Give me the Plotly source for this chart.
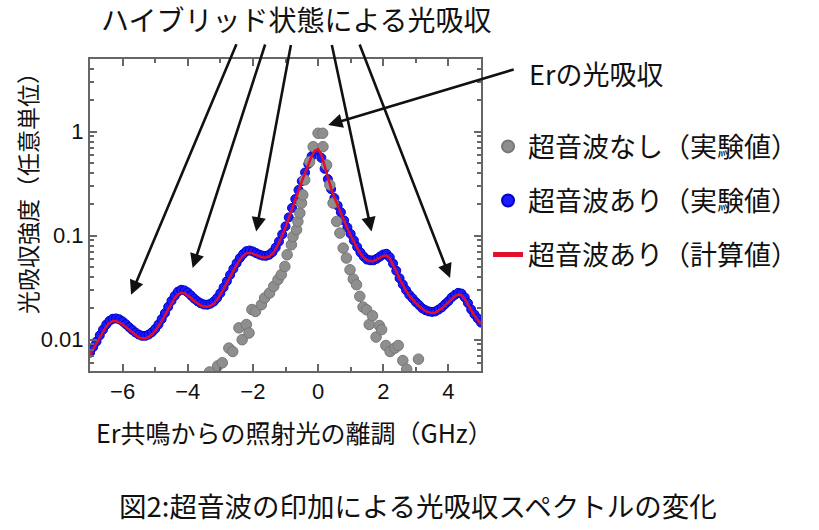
import math
import plotly.graph_objects as go

CJK = "Noto Sans CJK JP"
LAT = "Liberation Sans, Arial, sans-serif"

# ---- data -------------------------------------------------------------
detuning = [
    -7.0, -6.9, -6.8, -6.7, -6.6, -6.5, -6.4, -6.3, -6.2, -6.1,
    -6.0, -5.9, -5.8, -5.7, -5.6, -5.5, -5.4, -5.3, -5.2, -5.1,
    -5.0, -4.9, -4.8, -4.7, -4.6, -4.5, -4.4, -4.3, -4.2, -4.1,
    -4.0, -3.9, -3.8, -3.7, -3.6, -3.5, -3.4, -3.3, -3.2, -3.1,
    -3.0, -2.9, -2.8, -2.7, -2.6, -2.5, -2.4, -2.3, -2.2, -2.1,
    -2.0, -1.9, -1.8, -1.7, -1.6, -1.5, -1.4, -1.3, -1.2, -1.1,
    -1.0, -0.9, -0.8, -0.7, -0.6, -0.5, -0.4, -0.3, -0.2, -0.1,
    0.0, 0.1, 0.2, 0.3, 0.4, 0.5, 0.6, 0.7, 0.8, 0.9,
    1.0, 1.1, 1.2, 1.3, 1.4, 1.5, 1.6, 1.7, 1.8, 1.9,
    2.0, 2.1, 2.2, 2.3, 2.4, 2.5, 2.6, 2.7, 2.8, 2.9,
    3.0, 3.1, 3.2, 3.3, 3.4, 3.5, 3.6, 3.7, 3.8, 3.9,
    4.0, 4.1, 4.2, 4.3, 4.4, 4.5, 4.6, 4.7, 4.8, 4.9,
    5.0,
]

with_us_exp = [
    0.0075, 0.0085, 0.0096, 0.0110, 0.0125, 0.0140, 0.0152, 0.0159, 0.0160, 0.0157,
    0.0150, 0.0141, 0.0132, 0.0124, 0.0117, 0.0112, 0.0109, 0.0109, 0.0112, 0.0118,
    0.0127, 0.0140, 0.0158, 0.0180, 0.0207, 0.0236, 0.0264, 0.0290, 0.0302, 0.0298,
    0.0285, 0.0266, 0.0248, 0.0234, 0.0224, 0.0218, 0.0217, 0.0222, 0.0233, 0.0252,
    0.0280, 0.0318, 0.0365, 0.0420, 0.0480, 0.0545, 0.0610, 0.0665, 0.0710, 0.0720,
    0.0705, 0.0680, 0.0658, 0.0643, 0.0640, 0.0655, 0.0695, 0.0770, 0.0880, 0.1030,
    0.1230, 0.1500, 0.1850, 0.2250, 0.2750, 0.3350, 0.4050, 0.4900, 0.5800, 0.6550,
    0.6750, 0.5600, 0.4400, 0.3500, 0.2800, 0.2300, 0.1950, 0.1680, 0.1400, 0.1200,
    0.1040, 0.0900, 0.0780, 0.0690, 0.0630, 0.0590, 0.0580, 0.0580, 0.0600, 0.0630,
    0.0660, 0.0670, 0.0620, 0.0540, 0.0460, 0.0390, 0.0340, 0.0300, 0.0270, 0.0250,
    0.0230, 0.0215, 0.0200, 0.0192, 0.0187, 0.0185, 0.0187, 0.0195, 0.0205, 0.0220,
    0.0235, 0.0255, 0.0270, 0.0282, 0.0278, 0.0255, 0.0225, 0.0195, 0.0175, 0.0160,
    0.0146,
]

with_us_calc = [
    0.0072, 0.0082, 0.0093, 0.0106, 0.0120, 0.0134, 0.0145, 0.0151, 0.0151, 0.0147,
    0.0140, 0.0132, 0.0123, 0.0116, 0.0110, 0.0105, 0.0103, 0.0103, 0.0106, 0.0112,
    0.0121, 0.0134, 0.0151, 0.0172, 0.0197, 0.0225, 0.0251, 0.0273, 0.0283, 0.0280,
    0.0268, 0.0252, 0.0236, 0.0222, 0.0213, 0.0208, 0.0207, 0.0212, 0.0223, 0.0242,
    0.0270, 0.0307, 0.0352, 0.0405, 0.0463, 0.0525, 0.0588, 0.0640, 0.0676, 0.0685,
    0.0672, 0.0650, 0.0630, 0.0618, 0.0617, 0.0632, 0.0672, 0.0745, 0.0855, 0.1005,
    0.1200, 0.1470, 0.1820, 0.2220, 0.2720, 0.3320, 0.4020, 0.4870, 0.5780, 0.6550,
    0.6800, 0.6000, 0.4600, 0.3600, 0.2850, 0.2330, 0.1950, 0.1650, 0.1380, 0.1170,
    0.1010, 0.0870, 0.0760, 0.0675, 0.0615, 0.0580, 0.0568, 0.0570, 0.0588, 0.0615,
    0.0640, 0.0645, 0.0605, 0.0530, 0.0455, 0.0388, 0.0335, 0.0295, 0.0265, 0.0242,
    0.0225, 0.0210, 0.0197, 0.0188, 0.0183, 0.0181, 0.0183, 0.0190, 0.0200, 0.0214,
    0.0230, 0.0248, 0.0263, 0.0272, 0.0268, 0.0247, 0.0218, 0.0190, 0.0170, 0.0155,
    0.0142,
]

no_us_x = [
    -3.33, -3.08, -2.94, -2.74, -2.62, -2.43, -2.33, -2.20, -2.12, -2.03,
    -1.92, -1.74, -1.64, -1.49, -1.36, -1.23, -1.13, -1.02, -0.95, -0.82,
    -0.77, -0.66, -0.62, -0.56, -0.51, -0.47, -0.41, -0.26, -0.15, 0.00,
    0.14, 0.15, 0.26, 0.36, 0.46, 0.57, 0.67, 0.77, 0.87, 0.98,
    1.08, 1.18, 1.28, 1.38, 1.49, 1.57, 1.67, 1.78, 1.88, 1.95,
    2.08, 2.21, 2.36, 2.46, 2.60, 2.72, 3.08,
]
no_us_y = [
    0.0049, 0.0056, 0.0060, 0.0083, 0.0077, 0.0130, 0.0100, 0.0140, 0.0116, 0.0195,
    0.0187, 0.0217, 0.0252, 0.0281, 0.0326, 0.0378, 0.0422, 0.0506, 0.0656, 0.0818,
    0.0980, 0.1140, 0.1370, 0.1650, 0.2060, 0.2470, 0.3440, 0.5150, 0.7180, 0.9660,
    0.9660, 0.7180, 0.4790, 0.3080, 0.2060, 0.1370, 0.1060, 0.0760, 0.0610, 0.0470,
    0.0383, 0.0338, 0.0261, 0.0206, 0.0194, 0.0140, 0.0170, 0.0106, 0.0137, 0.0125,
    0.0088, 0.0077, 0.0083, 0.0088, 0.0063, 0.0052, 0.0065,
]

series_names = ["超音波なし（実験値）", "超音波あり（実験値）", "超音波あり（計算値）"]
x_ticks = [-6, -4, -2, 0, 2, 4]
y_ticks = [0.01, 0.1, 1]
y_tick_text = ["0.01", "0.1", "1"]

# arrow targets (data coords) for hybrid-state peaks and Er peak
hybrid_arrow_x = [-5.74, -3.85, -1.90, 1.64, 4.05]
hybrid_arrow_y = [0.0271, 0.0489, 0.1097, 0.1097, 0.0392]
er_arrow_x, er_arrow_y = 0.31, 1.159

# ---- figure -------------------------------------------------------------
fig = go.Figure()

fig.add_trace(go.Scatter(
    x=detuning, y=with_us_exp, mode="markers", name=series_names[1],
    legendgroup="b", legendrank=2,
    marker=dict(size=9, color="#1a1aff", line=dict(width=1, color="#0000c8")),
))
fig.add_trace(go.Scatter(
    x=no_us_x, y=no_us_y, mode="markers", name=series_names[0],
    legendgroup="a", legendrank=1,
    marker=dict(size=10.5, color="#8e8e8e", line=dict(width=1, color="#777777")),
))
fig.add_trace(go.Scatter(
    x=detuning, y=with_us_calc, mode="lines", name=series_names[2],
    legendgroup="c", legendrank=3,
    line=dict(color="#e0102a", width=2.5),
))

axis_common = dict(
    showline=True, linecolor="#666666", linewidth=2, mirror="ticks",
    ticks="inside", tickcolor="#666666", tickwidth=1.5, ticklen=7,
    showgrid=False, zeroline=False,
    tickfont=dict(family=LAT, size=22, color="#111111"),
)

fig.update_xaxes(
    range=[-7, 5], tickvals=x_ticks,
    minor=dict(dtick=1, tick0=1, ticks="inside", ticklen=4, tickcolor="#666666", showgrid=False),
    **axis_common,
)
fig.update_yaxes(
    type="log", range=[-2.301, 0.699], tickvals=y_ticks, ticktext=y_tick_text,
    minor=dict(dtick="D1", ticks="inside", ticklen=4, tickcolor="#666666", showgrid=False),
    **axis_common,
)

annotations = []
tails = [(106, -252), (73, -225), (35, -188), (-40, -188), (-91, -235)]
for (xv, yv), (dx, dy) in zip(zip(hybrid_arrow_x, hybrid_arrow_y), tails):
    annotations.append(dict(
        x=xv, y=math.log10(yv), xref="x", yref="y", ax=dx, ay=dy,
        text="", showarrow=True, arrowhead=2, arrowsize=1.1, arrowwidth=2.6, arrowcolor="#111111",
    ))
annotations.append(dict(
    x=er_arrow_x, y=math.log10(er_arrow_y), xref="x", yref="y", ax=187, ay=-56,
    text="", showarrow=True, arrowhead=2, arrowsize=1.1, arrowwidth=2.6, arrowcolor="#111111",
))
annotations.append(dict(
    x=0.528, y=1.127, xref="paper", yref="paper", xanchor="center", yanchor="middle",
    text="ハイブリッド状態による光吸収", showarrow=False,
    font=dict(family=CJK, size=28, color="#111111"),
))
annotations.append(dict(
    x=1.117, y=0.955, xref="paper", yref="paper", xanchor="left", yanchor="middle",
    text="Erの光吸収", showarrow=False,
    font=dict(family=CJK, size=27, color="#111111"),
))
annotations.append(dict(
    x=0.524, y=-0.1946, xref="paper", yref="paper", xanchor="center", yanchor="middle",
    text="Er共鳴からの照射光の離調（GHz）", showarrow=False,
    font=dict(family=CJK, size=25, color="#111111"),
))
annotations.append(dict(
    x=-0.1611, y=0.5865, xref="paper", yref="paper", xanchor="center", yanchor="middle",
    text="光吸収強度（任意単位）", textangle=-90, showarrow=False,
    font=dict(family=CJK, size=23, color="#111111"),
))
annotations.append(dict(
    x=0.8376, y=-0.4295, xref="paper", yref="paper", xanchor="center", yanchor="middle",
    text="図2:超音波の印加による光吸収スペクトルの変化", showarrow=False,
    font=dict(family=CJK, size=27.5, color="#111111"),
))

fig.update_layout(
    width=819, height=530,
    margin=dict(l=90, r=338, t=59, b=159),
    paper_bgcolor="white", plot_bgcolor="white",
    showlegend=True,
    legend=dict(
        x=1.018, y=0.797, xanchor="left", yanchor="top",
        font=dict(family=CJK, size=27, color="#111111"),
        tracegroupgap=16, itemsizing="constant", bgcolor="rgba(0,0,0,0)",
    ),
    annotations=annotations,
)

fig.write_html("out.html")
